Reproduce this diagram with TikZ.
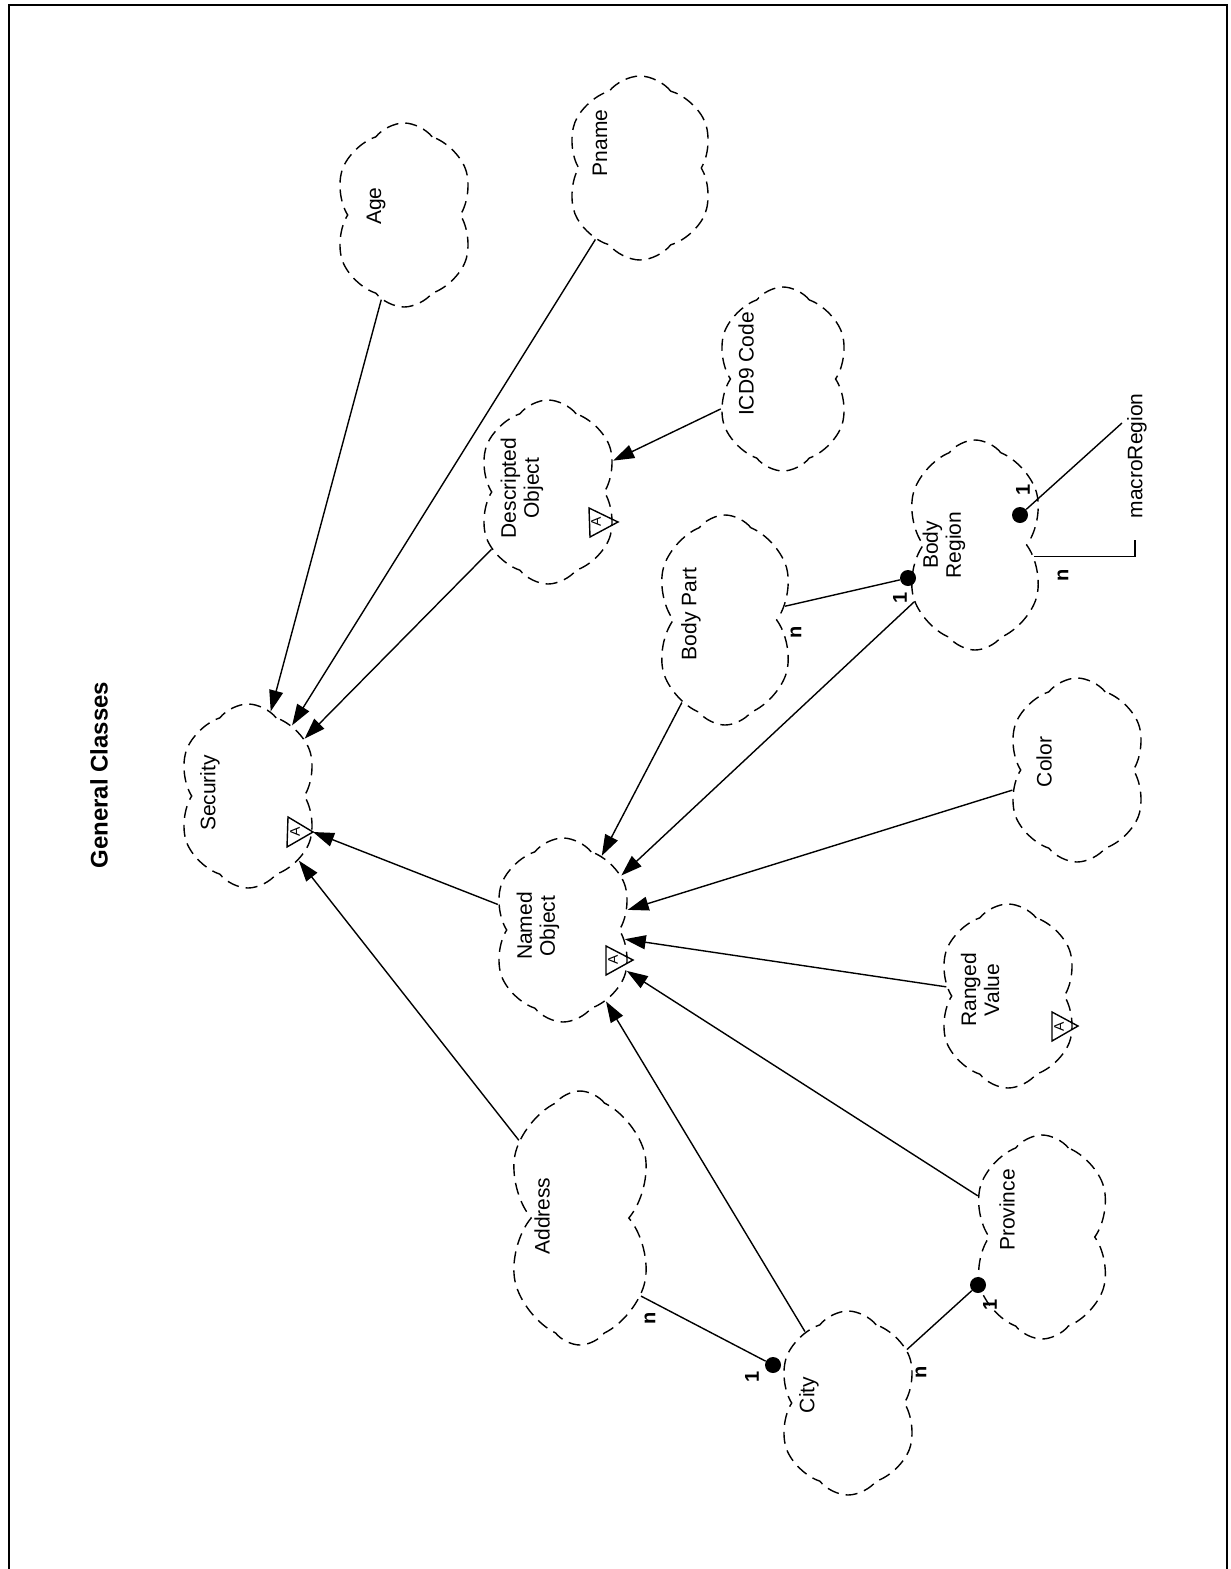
\documentclass[tikz,border=0pt]{standalone}
\usepackage{fontspec}
\setmainfont{Liberation Sans}
\usepackage{tikz}
\usetikzlibrary{shapes,arrows}
\usetikzlibrary{arrows.meta}

\begin{document}
\begin{tikzpicture}[x=0.5pt,y=-0.5pt]
\tikzstyle{classcloud}=[draw=black, dash pattern=on 6pt off 3.5pt, line width=0.7pt, shape=cloud, cloud puffs=6, cloud puff arc=105, cloud ignores aspect, minimum width=71pt, minimum height=92pt, inner sep=0pt]
\tikzstyle{classname}=[rotate=90, align=center, font=\fontsize{10.5}{11.5}\selectfont]
\tikzstyle{isa}=[draw=black, line width=0.7pt, -{Triangle[length=10.5pt,width=7pt]}]
\tikzstyle{assoc}=[draw=black, line width=0.7pt]
\tikzstyle{card}=[rotate=90, font=\fontsize{10}{12}\selectfont\bfseries]
\tikzstyle{assocdot}=[circle, fill=black, minimum size=8pt, inner sep=0pt]
\tikzstyle{abstract}=[draw=black, line width=0.7pt]
\tikzstyle{abstractA}=[rotate=90, font=\fontsize{7}{8}\selectfont, inner sep=0pt]
\tikzstyle{frame}=[draw=black, line width=0.7pt]

\useasboundingbox (0,0) rectangle (1231,1569);

% Page frame
\path[frame] (9,1569) -- (9,5) -- (1227,5) -- (1227,1569);

\node[rotate=90, font=\fontsize{12}{14}\selectfont\bfseries] (title) at (99,775) {General Classes};

% Class clouds
\node[classcloud] (sec) at (248,796) {};
\node[classname] (sec-name) at (210,793) {Security};
\node[classcloud] (named) at (563,930) {};
\node[classname] (named-name) at (538,926) {Named\\Object};
\node[classcloud] (age) at (404,215) {};
\node[classname] (age-name) at (376,206) {Age};
\node[classcloud, minimum width=75pt] (pname) at (640,168) {};
\node[classname] (pname-name) at (600,143) {Pname};
\node[classcloud, minimum width=68pt] (icd) at (783,379) {};
\node[classname] (icd-name) at (746,364) {ICD9 Code};
\node[classcloud] (desc) at (548,492) {};
\node[classname] (desc-name) at (522,488) {Descripted\\Object};
\node[classcloud, minimum height=105pt] (bpart) at (725,620) {};
\node[classname] (bpart-name) at (691,614) {Body Part};
\node[classcloud, minimum height=105pt] (breg) at (975,545) {};
\node[classname] (breg-name) at (944,545) {Body\\Region};
\node[classcloud] (color) at (1077,770) {};
\node[classname] (color-name) at (1044,762) {Color};
\node[classcloud] (ranged) at (1008,996) {};
\node[classname] (ranged-name) at (980,990) {Ranged\\Value};
\node[classcloud, minimum height=102pt] (prov) at (1042,1237) {};
\node[classname] (prov-name) at (1007,1210) {Province};
\node[classcloud, minimum width=75pt, minimum height=127pt] (addr) at (580,1218) {};
\node[classname] (addr-name) at (542,1216) {Address};
\node[classcloud] (city) at (848,1403) {};
\node[classname] (city-name) at (809,1395) {City};
\node[classname] (macro) at (1137,456) {macroRegion};

% Abstract adornments
\coordinate (sec-tip) at (313,832);
\path[abstract] (288,817) -- (sec-tip) -- (287,847) -- cycle;
\node[abstractA] (sec-a) at (295,832) {A};
\coordinate (named-tip) at (633,960);
\path[abstract] (606,946) -- (named-tip) -- (606,975) -- cycle;
\node[abstractA] (named-a) at (613,960) {A};
\coordinate (desc-tip) at (618,522);
\path[abstract] (589,508) -- (desc-tip) -- (590,537) -- cycle;
\node[abstractA] (desc-a) at (596,522) {A};
\coordinate (ranged-tip) at (1078,1026);
\path[abstract] (1052,1012) -- (ranged-tip) -- (1052,1041) -- cycle;
\node[abstractA] (ranged-a) at (1059,1027) {A};

% Inheritance
\path[isa] (age) -- (sec);
\path[isa] (pname) -- (sec);
\path[isa] (desc) -- (sec);
\path[isa] (named) -- (sec-tip);
\path[isa] (addr) -- (sec);
\path[isa] (icd) -- (desc);
\path[isa] (bpart) -- (named);
\path[isa] (breg) -- (named);
\path[isa] (color) -- (named);
\path[isa] (ranged) -- (named);
\path[isa] (prov) -- (named);
\path[isa] (city) -- (named);

% Associations
\node[assocdot] (city-dot) at (773,1365) {};
\node[assocdot] (prov-dot) at (978,1285) {};
\node[assocdot] (breg-dot) at (908,578) {};
\node[assocdot] (mr-dot) at (1020,515) {};
\coordinate (mr-top) at (1122,423);
\coordinate (mr-end) at (1135,540);

\path[assoc] (addr.-52) -- (city-dot);
\path[assoc] (city) -- (prov-dot);
\path[assoc] (bpart) -- (breg-dot);
\path[assoc] (mr-dot) -- (mr-top);
\path[assoc] (breg.-11) -| (mr-end);

\node[card] (addr-n) at (650,1318) {n};
\node[card] (city-1) at (752,1377) {1};
\node[card] (city-n) at (921,1372) {n};
\node[card] (prov-1) at (990,1305) {1};
\node[card] (bpart-n) at (796,632) {n};
\node[card] (breg-1) at (900,598) {1};
\node[card] (mr-1) at (1023,490) {1};
\node[card] (mr-n) at (1063,575) {n};
\end{tikzpicture}
\end{document}
